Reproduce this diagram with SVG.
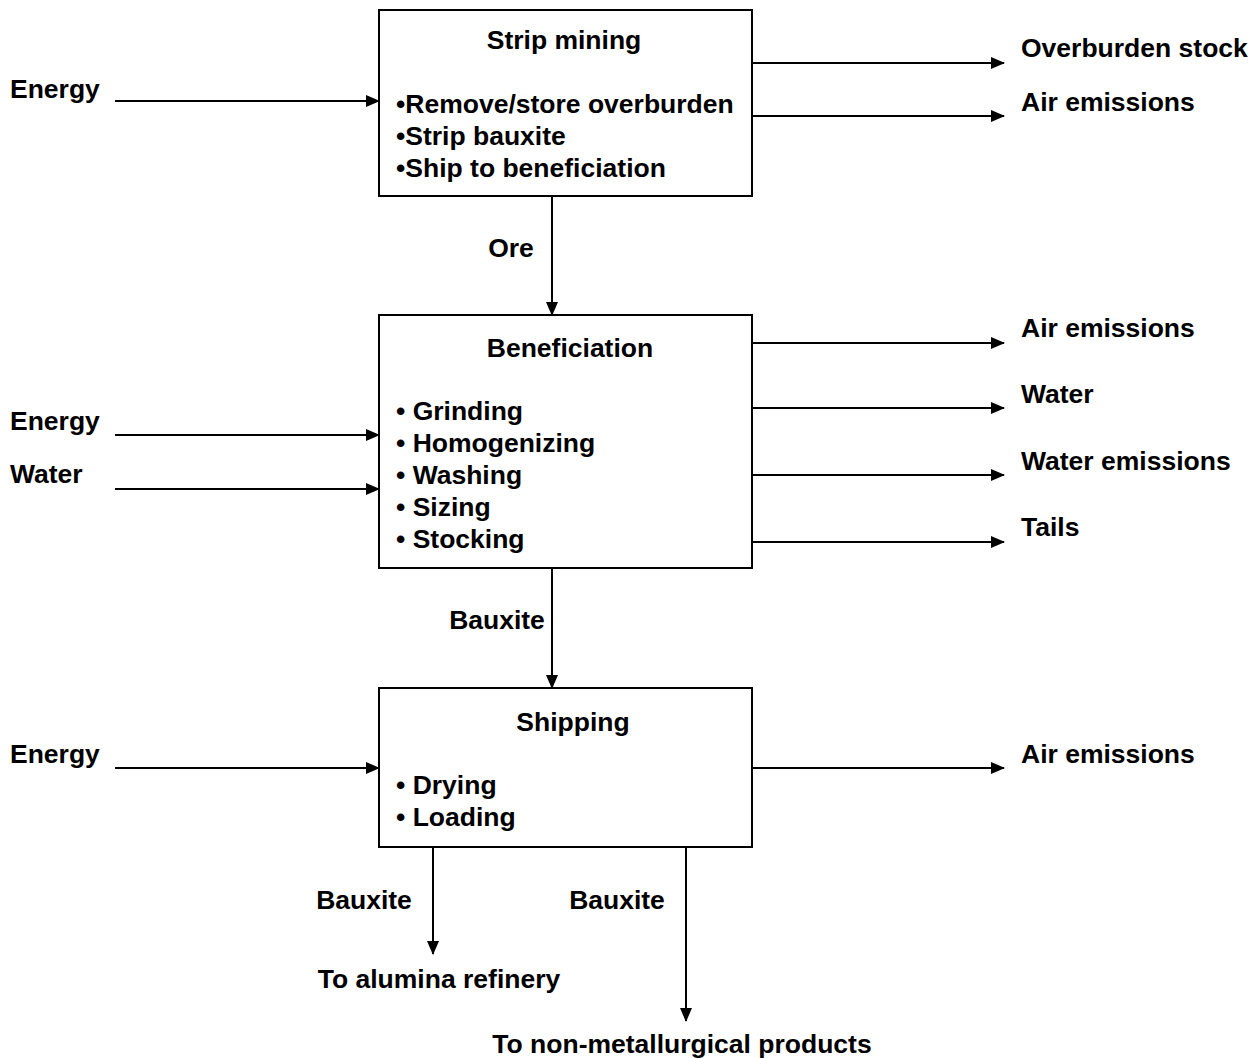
<svg xmlns="http://www.w3.org/2000/svg" width="1252" height="1058" viewBox="0 0 1252 1058">
<defs>
<style>
text{font-family:"Liberation Sans",Arial,sans-serif;font-weight:bold;font-size:26.5px;fill:#000}
.box{fill:#fff;stroke:#000;stroke-width:2}
.c{stroke:#000;stroke-width:2;fill:none;marker-end:url(#ah)}
.m{text-anchor:middle}
</style>
<marker id="ah" markerUnits="userSpaceOnUse" markerWidth="14" markerHeight="12" refX="13" refY="6" orient="auto">
<path d="M0,0 L14,6 L0,12 Z" fill="#000"/>
</marker>
</defs>
<rect width="1252" height="1058" fill="#fff"/>
<g id="connectors">
<line class="c" x1="115" y1="101" x2="379" y2="101"/>
<line class="c" x1="752" y1="63" x2="1004" y2="63"/>
<line class="c" x1="752" y1="116" x2="1004" y2="116"/>
<line class="c" x1="552" y1="196" x2="552" y2="315"/>
<line class="c" x1="115" y1="435" x2="379" y2="435"/>
<line class="c" x1="115" y1="489" x2="379" y2="489"/>
<line class="c" x1="752" y1="343" x2="1004" y2="343"/>
<line class="c" x1="752" y1="408" x2="1004" y2="408"/>
<line class="c" x1="752" y1="475" x2="1004" y2="475"/>
<line class="c" x1="752" y1="542" x2="1004" y2="542"/>
<line class="c" x1="552" y1="568" x2="552" y2="688"/>
<line class="c" x1="115" y1="768" x2="379" y2="768"/>
<line class="c" x1="752" y1="768" x2="1004" y2="768"/>
<line class="c" x1="433" y1="847" x2="433" y2="954"/>
<line class="c" x1="686" y1="847" x2="686" y2="1021"/>
</g>
<g id="labels">
<text x="10" y="98">Energy</text>
<text x="1021" y="57">Overburden stock</text>
<text x="1021" y="111">Air emissions</text>
<text x="511" y="257" class="m">Ore</text>
<text x="10" y="430">Energy</text>
<text x="10" y="483">Water</text>
<text x="1021" y="337">Air emissions</text>
<text x="1021" y="403">Water</text>
<text x="1021" y="470">Water emissions</text>
<text x="1021" y="536">Tails</text>
<text x="497" y="629" class="m">Bauxite</text>
<text x="10" y="763">Energy</text>
<text x="1021" y="763">Air emissions</text>
<text x="364" y="909" class="m">Bauxite</text>
<text x="617" y="909" class="m">Bauxite</text>
<text x="439" y="988" class="m">To alumina refinery</text>
<text x="682" y="1053" class="m">To non-metallurgical products</text>
</g>
<g id="strip-mining">
<rect class="box" x="379" y="10" width="373" height="186"/>
<text x="564" y="49" class="m">Strip mining</text>
<text x="396" y="113">•Remove/store overburden</text>
<text x="396" y="145">•Strip bauxite</text>
<text x="396" y="177">•Ship to beneficiation</text>
</g>
<g id="beneficiation">
<rect class="box" x="379" y="315" width="373" height="253"/>
<text x="570" y="357" class="m">Beneficiation</text>
<text x="396" y="420">• Grinding</text>
<text x="396" y="452">• Homogenizing</text>
<text x="396" y="484">• Washing</text>
<text x="396" y="516">• Sizing</text>
<text x="396" y="548">• Stocking</text>
</g>
<g id="shipping">
<rect class="box" x="379" y="688" width="373" height="159"/>
<text x="573" y="731" class="m">Shipping</text>
<text x="396" y="794">• Drying</text>
<text x="396" y="826">• Loading</text>
</g>
</svg>
